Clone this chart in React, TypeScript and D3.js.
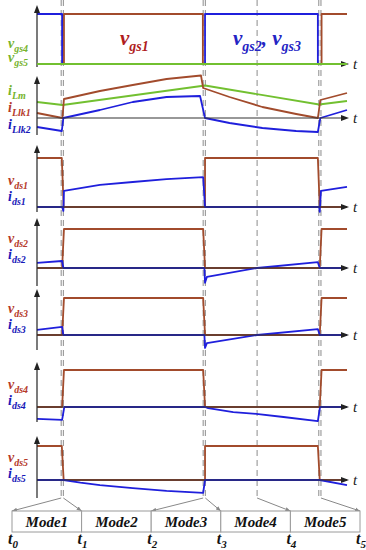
import * as d3 from 'd3';
import { useEffect } from 'react';

type Pt = [number, number];

// time runs 0..100 across the switching period shown
const vgs1: Pt[] = [[0, 0], [8.7, 0], [8.7, 1], [53.5, 1], [53.5, 0], [91.8, 0], [91.8, 1], [100, 1]];
const vgs23: Pt[] = [[0, 1], [8.1, 1], [8.1, 0], [54.2, 0], [54.2, 1], [90.6, 1], [90.6, 0], [100, 0]];
const vgs45: Pt[] = [[0, 0], [100, 0]];

const iLm: Pt[] = [[0, 1.6], [8.3, 1.3], [54.2, 3.25], [91.0, 1.35], [100, 1.7]];
const iLlk1: Pt[] = [[0, 0.5], [8.2, 0], [8.7, 1.9], [20.3, 2.7], [30.9, 3.3], [41.8, 3.9], [52.9, 4.25], [53.6, 3.0], [62.1, 2.1], [72.7, 1.1], [83.6, 0.4], [90.6, 0], [91.4, 1.8], [100, 2.5]];
const iLlk2: Pt[] = [[0, -0.9], [8.0, -1.3], [8.5, 0], [20.3, 0.8], [30.9, 1.6], [41.8, 2.1], [52.6, 2.2], [54.2, 0], [62.1, -0.5], [72.7, -1.0], [83.6, -1.3], [90.6, -1.4], [91.4, 0], [100, 0.8]];

const vds1: Pt[] = [[0, 1], [8.0, 1], [8.6, 0], [54.2, 0], [54.2, 1], [90.6, 1], [91.2, 0], [100, 0]];
const ids1: Pt[] = [[0, 0], [8.1, 0], [8.5, -0.08], [8.7, 0.33], [20.3, 0.45], [30.9, 0.51], [41.8, 0.57], [53.6, 0.61], [54.2, 0], [91.0, 0], [91.2, -0.1], [91.6, 0.33], [100, 0.41]];

const vds2: Pt[] = [[0, 0], [8.1, 0], [8.7, 1], [53.6, 1], [54.2, 0], [91.2, 0], [91.8, 1], [100, 1]];
const ids2: Pt[] = [[0, 0.13], [8.1, 0.18], [8.5, 0], [54.0, 0], [54.2, -0.38], [54.8, -0.23], [71.0, 0], [90.6, 0.15], [91.2, 0], [100, 0]];

const vds3: Pt[] = [[0, 0], [8.1, 0], [8.7, 1], [53.6, 1], [54.2, 0], [91.2, 0], [91.8, 1], [100, 1]];
const ids3: Pt[] = [[0, 0.14], [8.1, 0.22], [8.5, 0], [54.0, 0], [54.2, -0.35], [54.8, -0.22], [71.0, 0], [90.6, 0.16], [91.2, 0], [100, 0]];

const vds4: Pt[] = [[0, 0], [8.1, 0], [8.7, 1], [53.6, 1], [54.2, 0], [91.2, 0], [91.8, 1], [100, 1]];
const ids4: Pt[] = [[0, -0.32], [8.1, -0.35], [8.8, 0], [54.2, 0], [55.2, -0.03], [63.3, -0.14], [71.4, -0.19], [79.5, -0.27], [90.6, -0.38], [91.3, 0], [100, 0]];

const vds5: Pt[] = [[0, 1], [8.0, 1], [8.6, 0], [54.2, 0], [54.2, 1], [90.6, 1], [91.2, 0], [100, 0]];
const ids5: Pt[] = [[0, 0], [8.6, 0], [14.0, -0.08], [20.3, -0.15], [30.9, -0.24], [41.8, -0.32], [53.6, -0.38], [54.2, 0], [91.2, 0], [100, -0.15]];

const switchTimes = [7.8, 8.5, 53.6, 54.3, 71.0, 90.9, 91.6];
const arrowLinks: [number, number][] = [[7.8, 0], [8.5, 1], [53.6, 2], [54.3, 3], [71.0, 4], [91.6, 5]];
const modes = ['Mode1', 'Mode2', 'Mode3', 'Mode4', 'Mode5'];
const tLabels = ['0', '1', '2', '3', '4', '5'];

const BROWN = '#a24b2c';
const BLUE = '#1f1fdc';
const GREEN = '#72c030';
const LBL_RED = '#b53a2a';
const LBL_BLUE = '#1818b8';
const LBL_GREEN = '#76b32c';
const FONT = '"Liberation Serif", "Times New Roman", serif';

type Label = { main: string; sub: string; color: string; y: number };

const panels = [
  { top: 5, zero: 64, bottom: 67, unit: 50,
    series: [{ d: vgs1, c: BROWN }, { d: vgs23, c: BLUE }, { d: vgs45, c: GREEN }],
    labels: [{ main: 'v', sub: 'gs4', color: LBL_GREEN, y: 48 }, { main: 'v', sub: 'gs5', color: LBL_GREEN, y: 62 }] as Label[] },
  { top: 76, zero: 118, bottom: 135, unit: 10,
    series: [{ d: iLm, c: GREEN }, { d: iLlk1, c: BROWN }, { d: iLlk2, c: BLUE }],
    labels: [{ main: 'i', sub: 'Lm', color: LBL_GREEN, y: 95 }, { main: 'i', sub: 'Llk1', color: LBL_RED, y: 112 }, { main: 'i', sub: 'Llk2', color: LBL_BLUE, y: 129 }] as Label[] },
  { top: 145, zero: 207, bottom: 212, unit: 49,
    series: [{ d: vds1, c: BROWN }, { d: ids1, c: BLUE }],
    labels: [{ main: 'v', sub: 'ds1', color: LBL_RED, y: 185 }, { main: 'i', sub: 'ds1', color: LBL_BLUE, y: 201 }] as Label[] },
  { top: 218, zero: 268, bottom: 286, unit: 39,
    series: [{ d: vds2, c: BROWN }, { d: ids2, c: BLUE }],
    labels: [{ main: 'v', sub: 'ds2', color: LBL_RED, y: 243 }, { main: 'i', sub: 'ds2', color: LBL_BLUE, y: 259 }] as Label[] },
  { top: 289, zero: 335, bottom: 350, unit: 37,
    series: [{ d: vds3, c: BROWN }, { d: ids3, c: BLUE }],
    labels: [{ main: 'v', sub: 'ds3', color: LBL_RED, y: 313 }, { main: 'i', sub: 'ds3', color: LBL_BLUE, y: 329 }] as Label[] },
  { top: 362, zero: 407, bottom: 422, unit: 37,
    series: [{ d: vds4, c: BROWN }, { d: ids4, c: BLUE }],
    labels: [{ main: 'v', sub: 'ds4', color: LBL_RED, y: 389 }, { main: 'i', sub: 'ds4', color: LBL_BLUE, y: 405 }] as Label[] },
  { top: 436, zero: 480, bottom: 498, unit: 34,
    series: [{ d: vds5, c: BROWN }, { d: ids5, c: BLUE }],
    labels: [{ main: 'v', sub: 'ds5', color: LBL_RED, y: 462 }, { main: 'i', sub: 'ds5', color: LBL_BLUE, y: 478 }] as Label[] },
];

function SubText({ x, y, parts, size, subSize, color }: { x: number; y: number; parts: [string, boolean][]; size: number; subSize: number; color: string }) {
  const off = size * 0.28;
  let sub = false;
  return (
    <text x={x} y={y} fill={color} fontFamily={FONT} fontWeight="bold" fontStyle="italic" fontSize={size}>
      {parts.map(([s, isSub], i) => {
        const dy = isSub && !sub ? off : !isSub && sub ? -off : 0;
        sub = isSub;
        return <tspan key={i} dy={dy} fontSize={isSub ? subSize : size}>{s}</tspan>;
      })}
    </text>
  );
}

export default function App() {
  useEffect(() => { document.body.style.margin = '0'; }, []);

  const x = d3.scaleLinear().domain([0, 100]).range([37, 347]);
  const modeX = d3.scaleLinear().domain([0, 5]).range([12, 360]);
  const axisEnd = 349;
  const boxTop = 511, boxBottom = 532, dashBottom = 498;

  return (
    <svg width={366} height={550} style={{ display: 'block', background: '#fff' }}>
      <defs>
        <marker id="ah" viewBox="0 0 10 10" refX="10" refY="5" markerWidth="5" markerHeight="5" orient="auto">
          <path d="M0,1 L10,5 L0,9 z" fill="#888" />
        </marker>
      </defs>

      {/* switching instants */}
      {switchTimes.map((t, i) => (
        <line key={i} x1={x(t)} x2={x(t)} y1={0} y2={dashBottom} stroke="#8c8c8c" strokeWidth={1} strokeDasharray="6,4" />
      ))}

      {panels.map((p, pi) => {
        const y = d3.scaleLinear().domain([0, 1]).range([p.zero, p.zero - p.unit]);
        const line = d3.line<Pt>().x(d => x(d[0])).y(d => y(d[1]));
        const onTop = pi === 0 ? p.series.slice(0, 2) : p.series;
        return (
          <g key={pi}>
            {onTop.map((s, si) => (
              <path key={si} d={line(s.d) || ''} fill="none" stroke={s.c} strokeWidth={1.8} strokeLinejoin="round" />
            ))}
            <line x1={37} x2={37} y1={p.top + 6} y2={p.bottom} stroke="#222" strokeWidth={1.2} />
            <path d={`M37,${p.top} L34,${p.top + 8} L40,${p.top + 8} z`} fill="#222" />
            <line x1={37} x2={axisEnd - 6} y1={p.zero} y2={p.zero} stroke="#333" strokeWidth={1.2} />
            <path d={`M${axisEnd},${p.zero} L${axisEnd - 8},${p.zero - 3} L${axisEnd - 8},${p.zero + 3} z`} fill="#222" />
            {pi === 0 && (
              <path d={line(p.series[2].d) || ''} fill="none" stroke={p.series[2].c} strokeWidth={2} />
            )}
            <text x={353} y={p.zero + 5} fontFamily={FONT} fontStyle="italic" fontSize={15} fill="#222">t</text>
            {p.labels.map((l, li) => (
              <SubText key={li} x={8} y={l.y} parts={[[l.main, false], [l.sub, true]]} size={14} subSize={10} color={l.color} />
            ))}
          </g>
        );
      })}

      <SubText x={120} y={45} parts={[['v', false], ['gs1', true]]} size={21} subSize={14} color="#b01e1e" />
      <SubText x={233} y={45} parts={[['v', false], ['gs2', true], [', ', false], ['v', false], ['gs3', true]]} size={21} subSize={14} color="#2424c4" />

      {/* arrows from switching instants to the mode boundaries */}
      {arrowLinks.map(([t, b], i) => (
        <line key={i} x1={x(t)} y1={dashBottom} x2={modeX(b)} y2={boxTop} stroke="#888" strokeWidth={1} markerEnd="url(#ah)" />
      ))}

      {modes.map((m, i) => (
        <g key={m}>
          <rect x={modeX(i)} y={boxTop} width={modeX(i + 1) - modeX(i)} height={boxBottom - boxTop} fill="#fff" stroke="#9a9a9a" strokeWidth={1} />
          <text x={(modeX(i) + modeX(i + 1)) / 2} y={boxTop + 16} textAnchor="middle" fontFamily={FONT} fontWeight="bold" fontStyle="italic" fontSize={15} fill="#111">{m}</text>
        </g>
      ))}

      {tLabels.map((s, i) => (
        <SubText key={s} x={modeX(i) - 4} y={544} parts={[['t', false], [s, true]]} size={16} subSize={11} color="#111" />
      ))}
    </svg>
  );
}
